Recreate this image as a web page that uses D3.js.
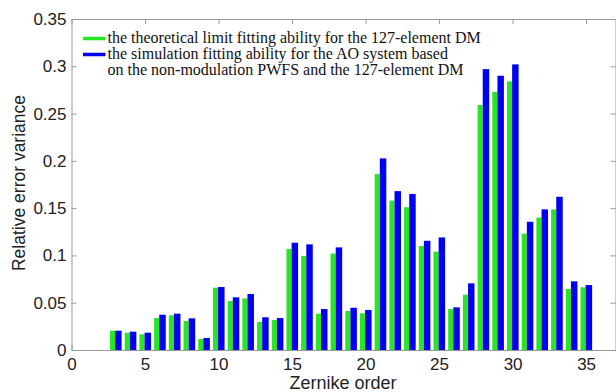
<!DOCTYPE html>
<html>
<head>
<meta charset="utf-8">
<script src="https://cdn.jsdelivr.net/npm/d3@7"></script>
<style>
  body { margin: 0; background: #fff; }
  svg { display: block; }
  .axis path, .axis line { stroke: #9a9a9a; }
  .axis text { font-family: "Liberation Sans", Arial, sans-serif; font-size: 17px; fill: #222; }
</style>
</head>
<body>
<svg></svg>
<script>
let orders = [3,4,5,6,7,8,9,10,11,12,13,14,15,16,17,18,19,20,21,22,23,24,25,26,27,28,29,30,31,32,33,34,35]
let theoretical = [0.0204,0.0183,0.0166,0.0338,0.0367,0.0307,0.0116,0.0659,0.0518,0.0546,0.0296,0.0317,0.1068,0.0994,0.0384,0.1020,
    0.0412,0.0388,0.1860,0.1580,0.1510,0.1100,0.1040,0.0433,0.0585,0.2590,0.2730,0.2840,0.1230,0.1400,0.1487,0.0645,0.0663]
let simulation = [0.0204,0.0194,0.0183,0.0373,0.0384,0.0335,0.0127,0.0666,0.0557,0.0592,0.0346,0.0338,0.1134,0.1117,0.0433,0.1085,
    0.0447,0.0423,0.2026,0.1680,0.1650,0.1155,0.1190,0.0451,0.0705,0.2970,0.2900,0.3020,0.1356,0.1487,0.1620,0.0726,0.0687]
let xTicks = [0,5,10,15,20,25,30,35]
let yTicks = [0,0.05,0.1,0.15,0.2,0.25,0.3,0.35]
let yTickLabels = ["0","0.05","0.1","0.15","0.2","0.25","0.3","0.35"]
let legendLabels = [
    ["the theoretical limit fitting ability for the 127-element DM"],
    ["the simulation fitting ability for the AO system based", "on the non-modulation PWFS and the 127-element DM"]
]
let colors = ["#26e626", "#0000f2"]

let width = 616
let height = 392
let padLeft = 71.5, padRight = 615.5, padTop = 19, padBottom = 350

let svg = d3.select('svg').attr("width", width).attr("height", height)

let xScale = d3.scaleLinear().domain([0, 37]).range([padLeft, padRight])
let yScale = d3.scaleLinear().domain([0, 0.35]).range([padBottom, padTop])

// axes (box with inward ticks)
svg.append("g").attr("class", "axis").attr("transform", "translate(0," + padBottom + ")")
    .call(d3.axisBottom(xScale).tickValues(xTicks).tickSizeInner(-5).tickSizeOuter(0).tickPadding(8))
svg.append("g").attr("class", "axis").attr("transform", "translate(0," + padTop + ")")
    .call(d3.axisTop(xScale).tickValues(xTicks).tickSizeInner(-5).tickSizeOuter(0).tickFormat(""))
svg.append("g").attr("class", "axis").attr("transform", "translate(" + padLeft + ",0)")
    .call(d3.axisLeft(yScale).tickValues(yTicks).tickSizeInner(-5).tickSizeOuter(0).tickPadding(5)
        .tickFormat((d, i) => yTickLabels[i]))
svg.append("g").attr("class", "axis").attr("transform", "translate(" + padRight + ",0)")
    .call(d3.axisRight(yScale).tickValues(yTicks).tickSizeInner(-5).tickSizeOuter(0).tickFormat(""))

// bars
let unit = xScale(1) - xScale(0)
svg.selectAll(".g-bar").data(orders).enter().append("rect")
    .attr("class", "g-bar")
    .attr("x", d => xScale(d - 0.38))
    .attr("width", 0.35 * unit)
    .attr("y", (d, i) => yScale(theoretical[i]))
    .attr("height", (d, i) => yScale(0) - yScale(theoretical[i]))
    .attr("fill", colors[0])
svg.selectAll(".b-bar").data(orders).enter().append("rect")
    .attr("class", "b-bar")
    .attr("x", d => xScale(d - 0.03))
    .attr("width", 0.44 * unit)
    .attr("y", (d, i) => yScale(simulation[i]))
    .attr("height", (d, i) => yScale(0) - yScale(simulation[i]))
    .attr("fill", colors[1])

// axis titles
svg.append("text").attr("x", 343).attr("y", 389)
    .attr("text-anchor", "middle")
    .style("font-family", "Liberation Sans, Arial, sans-serif").style("font-size", "18px").attr("fill", "#222")
    .text("Zernike order")
svg.append("text").attr("transform", "translate(25,183) rotate(-90)")
    .attr("text-anchor", "middle")
    .style("font-family", "Liberation Sans, Arial, sans-serif").style("font-size", "17.5px").attr("fill", "#222")
    .text("Relative error variance")

// legend
let legend = svg.append("g")
let rowY = [38.5, 54.5]
legendLabels.forEach((lines, i) => {
    legend.append("line").attr("x1", 83).attr("x2", 105.5).attr("y1", rowY[i]).attr("y2", rowY[i])
        .attr("stroke", colors[i]).attr("stroke-width", 3.5)
    lines.forEach((t, j) => {
        legend.append("text").attr("x", 107.5).attr("y", rowY[i] + 4.5 + j * 15.5)
            .style("font-family", "Liberation Serif, Times New Roman, serif").style("font-size", "16px")
            .attr("fill", "#111").text(t)
    })
})
</script>
</body>
</html>
